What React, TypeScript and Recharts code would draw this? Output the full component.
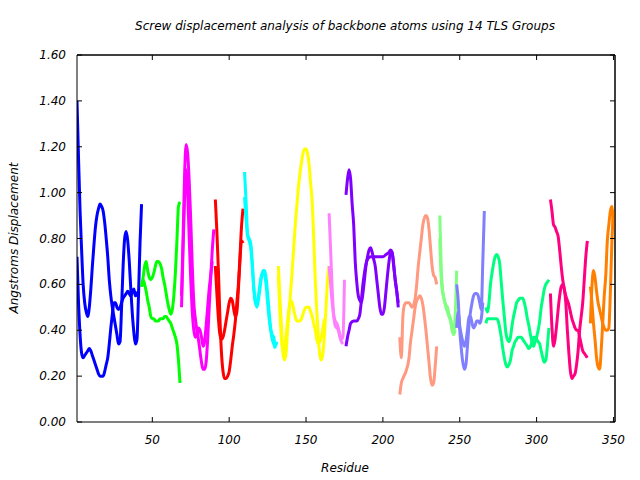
import { LineChart, Line, XAxis, YAxis, ReferenceLine } from "recharts";

const residueTicks = [50, 100, 150, 200, 250, 300, 350];
const displacementTicks = [0, 0.2, 0.4, 0.6, 0.8, 1.0, 1.2, 1.4, 1.6];
const residueRange = [1, 351];
const displacementRange = [0, 1.6];

// [residue, displacement], two traces per TLS group
const tls01a = [[1,1.40],[2,1.15],[3,0.92],[4,0.75],[5,0.60],[6,0.52],[7,0.48],[8,0.46],[9,0.50],[10,0.58],[11,0.68],[12,0.77],[13,0.85],[14,0.90],[15,0.93],[16,0.95],[17,0.94],[18,0.92],[19,0.87],[20,0.80],[21,0.72],[22,0.62],[23,0.55],[24,0.50],[25,0.46],[26,0.42],[27,0.38],[28,0.34],[29,0.35],[30,0.50],[31,0.68],[32,0.80],[33,0.83],[34,0.79],[35,0.70],[36,0.58],[37,0.47],[38,0.39],[39,0.34],[40,0.36],[41,0.55],[42,0.78],[43,0.95]];
const tls01b = [[1,0.72],[2,0.52],[3,0.38],[4,0.30],[5,0.28],[6,0.29],[7,0.30],[8,0.31],[9,0.32],[10,0.31],[11,0.29],[12,0.27],[13,0.25],[14,0.23],[15,0.21],[16,0.20],[17,0.20],[18,0.20],[19,0.22],[20,0.25],[21,0.28],[22,0.34],[23,0.41],[24,0.47],[25,0.52],[26,0.52],[27,0.50],[28,0.49],[29,0.50],[30,0.52],[31,0.54],[32,0.55],[33,0.56],[34,0.57],[35,0.56],[36,0.55],[37,0.57],[38,0.58],[39,0.55],[40,0.56],[41,0.57]];
const tls02a = [[43,0.59],[44,0.63],[45,0.68],[46,0.70],[47,0.66],[48,0.63],[49,0.62],[50,0.63],[51,0.65],[52,0.68],[53,0.70],[54,0.70],[55,0.69],[56,0.67],[57,0.63],[58,0.60],[59,0.56],[60,0.52],[61,0.49],[62,0.47],[63,0.49],[64,0.55],[65,0.65],[66,0.79],[67,0.94],[68,0.96]];
const tls02b = [[43,0.59],[44,0.62],[45,0.60],[46,0.57],[47,0.53],[48,0.50],[49,0.46],[50,0.45],[51,0.45],[52,0.44],[53,0.44],[54,0.44],[55,0.45],[56,0.45],[57,0.45],[58,0.46],[59,0.46],[60,0.45],[61,0.44],[62,0.43],[63,0.41],[64,0.39],[65,0.37],[66,0.34],[67,0.27],[68,0.17]];
const tls03a = [[69,0.55],[70,0.80],[71,1.08],[72,1.21],[73,1.17],[74,1.05],[75,0.88],[76,0.68],[77,0.52],[78,0.45],[79,0.40],[80,0.36],[81,0.31],[82,0.26],[83,0.23],[84,0.23],[85,0.26],[86,0.36],[87,0.50],[88,0.63],[89,0.75],[90,0.84]];
const tls03b = [[69,0.50],[70,0.75],[71,0.98],[72,1.10],[73,1.00],[74,0.80],[75,0.62],[76,0.48],[77,0.40],[78,0.37],[79,0.38],[80,0.41],[81,0.40],[82,0.37],[83,0.33],[84,0.35],[85,0.42],[86,0.50],[87,0.58],[88,0.64],[89,0.70]];
const tls04a = [[91,0.97],[92,0.83],[93,0.66],[94,0.45],[95,0.30],[96,0.22],[97,0.19],[98,0.19],[99,0.20],[100,0.22],[101,0.27],[102,0.33],[103,0.38],[104,0.44],[105,0.52],[106,0.60],[107,0.72],[108,0.85],[109,0.93]];
const tls04b = [[91,0.68],[92,0.56],[93,0.45],[94,0.38],[95,0.36],[96,0.37],[97,0.40],[98,0.44],[99,0.48],[100,0.52],[101,0.54],[102,0.53],[103,0.49],[104,0.46],[105,0.48],[106,0.58],[107,0.70],[108,0.79],[109,0.78]];
const tls05a = [[110,1.09],[111,0.96],[112,0.82],[113,0.80],[114,0.78],[115,0.70],[116,0.59],[117,0.53],[118,0.50],[119,0.53],[120,0.58],[121,0.63],[122,0.66],[123,0.66],[124,0.63],[125,0.56],[126,0.48],[127,0.41],[128,0.38],[129,0.37],[130,0.33],[131,0.35]];
const tls05b = [[110,0.98],[111,0.88],[112,0.81],[113,0.79],[114,0.76],[115,0.68],[116,0.58],[117,0.52],[118,0.51],[119,0.55],[120,0.60],[121,0.64],[122,0.65],[123,0.64],[124,0.60],[125,0.52],[126,0.45],[127,0.40],[128,0.36],[129,0.34],[130,0.32]];
const tls06a = [[132,0.68],[133,0.54],[134,0.42],[135,0.30],[136,0.27],[137,0.30],[138,0.40],[139,0.48],[140,0.57],[141,0.66],[142,0.76],[143,0.86],[144,0.94],[145,1.02],[146,1.08],[147,1.13],[148,1.17],[149,1.19],[150,1.19],[151,1.17],[152,1.12],[153,1.04],[154,0.96],[155,0.80],[156,0.62],[157,0.48],[158,0.37],[159,0.29],[160,0.27],[161,0.30],[162,0.38],[163,0.50],[164,0.62],[165,0.68]];
const tls06b = [[132,0.64],[133,0.48],[134,0.36],[135,0.31],[136,0.32],[137,0.38],[138,0.44],[139,0.50],[140,0.53],[141,0.52],[142,0.49],[143,0.46],[144,0.44],[145,0.44],[146,0.44],[147,0.45],[148,0.47],[149,0.49],[150,0.50],[151,0.50],[152,0.50],[153,0.48],[154,0.46],[155,0.43],[156,0.40],[157,0.36],[158,0.34],[159,0.35],[160,0.37],[161,0.41],[162,0.45]];
const tls07a = [[165,0.91],[166,0.75],[167,0.58],[168,0.47],[169,0.44],[170,0.43],[171,0.41],[172,0.38],[173,0.36],[174,0.37],[175,0.62]];
const tls07b = [[165,0.68],[166,0.60],[167,0.52],[168,0.46],[169,0.42],[170,0.41],[171,0.40],[172,0.37],[173,0.35],[174,0.34]];
const tls08a = [[176,0.99],[177,1.06],[178,1.10],[179,1.06],[180,0.95],[181,0.86],[182,0.70],[183,0.61],[184,0.55],[185,0.53],[186,0.52],[187,0.56],[188,0.62],[189,0.68],[190,0.72],[191,0.75],[192,0.76],[193,0.74],[194,0.71],[195,0.68],[196,0.62],[197,0.56],[198,0.50],[199,0.47],[200,0.47],[201,0.50],[202,0.57],[203,0.64],[204,0.70],[205,0.74],[206,0.74],[207,0.69],[208,0.62],[209,0.57],[210,0.50]];
const tls08b = [[176,0.33],[177,0.37],[178,0.40],[179,0.43],[181,0.44],[183,0.44],[184,0.45],[185,0.47],[186,0.53],[187,0.60],[188,0.65],[189,0.69],[190,0.71],[192,0.72],[194,0.72],[196,0.72],[198,0.72],[200,0.72],[202,0.73],[204,0.74],[205,0.75],[206,0.74],[207,0.68],[208,0.62],[209,0.57],[210,0.52]];
const tls09a = [[211,0.37],[212,0.28],[213,0.46],[214,0.51],[215,0.52],[217,0.52],[219,0.50],[221,0.54],[222,0.60],[223,0.68],[224,0.74],[225,0.80],[226,0.86],[227,0.89],[228,0.90],[229,0.89],[230,0.84],[231,0.76],[232,0.68],[233,0.64],[234,0.63],[235,0.60]];
const tls09b = [[211,0.12],[212,0.17],[213,0.19],[215,0.22],[217,0.28],[218,0.35],[219,0.40],[220,0.45],[221,0.50],[222,0.53],[223,0.54],[224,0.55],[225,0.54],[226,0.51],[227,0.46],[228,0.40],[229,0.33],[230,0.26],[231,0.19],[232,0.16],[233,0.17],[234,0.24],[235,0.33]];
const tls10a = [[237,0.90],[238,0.66],[239,0.57],[240,0.53],[241,0.51],[242,0.50],[243,0.47],[244,0.45],[245,0.42],[246,0.39],[247,0.46],[248,0.66]];
const tls10b = [[237,0.80],[238,0.62],[239,0.56],[240,0.53],[241,0.50],[242,0.48],[243,0.46],[244,0.44],[245,0.40],[246,0.38],[247,0.40]];
const tls11a = [[248,0.60],[249,0.53],[250,0.40],[251,0.32],[252,0.26],[253,0.23],[254,0.25],[255,0.33],[256,0.42],[257,0.48],[258,0.52],[259,0.55],[260,0.56],[261,0.56],[262,0.55],[263,0.52],[264,0.49],[265,0.70],[266,0.92]];
const tls11b = [[248,0.41],[249,0.48],[250,0.42],[251,0.38],[252,0.35],[253,0.33],[254,0.35],[255,0.40],[256,0.46],[257,0.46],[258,0.43],[259,0.41],[260,0.42],[261,0.44],[262,0.44],[263,0.43],[264,0.45],[265,0.52]];
const tls12a = [[267,0.50],[268,0.48],[269,0.52],[270,0.60],[271,0.65],[272,0.69],[273,0.72],[274,0.73],[275,0.72],[276,0.69],[277,0.61],[278,0.53],[279,0.46],[280,0.39],[281,0.36],[282,0.35],[283,0.37],[284,0.42],[285,0.46],[286,0.49],[287,0.52],[288,0.53],[289,0.54],[290,0.54],[291,0.54],[292,0.52],[293,0.49],[294,0.45],[295,0.42],[296,0.38],[297,0.35],[298,0.33],[299,0.35],[300,0.37],[301,0.40],[302,0.44],[303,0.50],[304,0.54],[305,0.58],[306,0.60],[307,0.61],[308,0.62]];
const tls12b = [[267,0.43],[268,0.45],[270,0.45],[272,0.45],[274,0.45],[275,0.44],[276,0.41],[277,0.37],[278,0.32],[279,0.28],[280,0.25],[281,0.24],[282,0.25],[283,0.27],[284,0.31],[285,0.33],[286,0.35],[287,0.36],[288,0.37],[289,0.37],[290,0.37],[291,0.36],[292,0.35],[293,0.34],[294,0.33],[295,0.32],[296,0.33],[297,0.35],[298,0.37],[299,0.37],[300,0.36],[301,0.35],[302,0.34],[303,0.31],[304,0.28],[305,0.26],[306,0.27],[307,0.33],[308,0.41]];
const tls13a = [[309,0.97],[310,0.92],[311,0.86],[312,0.85],[313,0.83],[314,0.81],[315,0.75],[316,0.68],[317,0.62],[318,0.58],[319,0.55],[320,0.53],[321,0.51],[322,0.48],[323,0.45],[324,0.43],[325,0.41],[326,0.40],[327,0.40],[328,0.37],[329,0.34],[330,0.31],[331,0.30],[332,0.29],[333,0.28]];
const tls13b = [[309,0.56],[310,0.41],[311,0.33],[312,0.36],[313,0.42],[314,0.49],[315,0.55],[316,0.59],[317,0.60],[318,0.58],[319,0.52],[320,0.40],[321,0.30],[322,0.22],[323,0.19],[324,0.20],[325,0.21],[326,0.25],[327,0.31],[328,0.40],[329,0.46],[330,0.52],[331,0.62],[332,0.72],[333,0.79]];
const tls14a = [[335,0.43],[336,0.59],[337,0.66],[338,0.63],[339,0.57],[340,0.52],[341,0.49],[342,0.46],[343,0.43],[344,0.41],[345,0.40],[346,0.40],[347,0.41],[348,0.57],[349,0.79],[350,0.92]];
const tls14b = [[335,0.59],[336,0.52],[337,0.43],[338,0.36],[339,0.28],[340,0.24],[341,0.23],[342,0.31],[343,0.43],[344,0.55],[345,0.64],[346,0.79],[347,0.86],[348,0.92],[349,0.94],[350,0.84]];

const groupColors = ["#0000ff", "#00ff00", "#ff00ff", "#ff0000", "#00ffff", "#ffff00", "#ff80ff", "#8000ff", "#ff9980", "#80ff80", "#8080ff", "#00ff80", "#ff0080", "#ff8000"];
const groupTraces = [
  [tls01a, tls01b], [tls02a, tls02b], [tls03a, tls03b], [tls04a, tls04b],
  [tls05a, tls05b], [tls06a, tls06b], [tls07a, tls07b], [tls08a, tls08b],
  [tls09a, tls09b], [tls10a, tls10b], [tls11a, tls11b], [tls12a, tls12b],
  [tls13a, tls13b], [tls14a, tls14b],
];

const FONT = "'DejaVu Sans', sans-serif";
const TICK = 5;

const BottomTick = (props: any) => {
  const { x, y, payload } = props;
  return (
    <g>
      <line x1={x} y1={y} x2={x} y2={y - TICK} stroke="#000" />
      <text x={x} y={y + 22} textAnchor="middle" fontSize={12} fontStyle="italic" fontFamily={FONT} fill="#000">
        {payload.value}
      </text>
    </g>
  );
};

const TopTick = (props: any) => {
  const { x, y } = props;
  return <line x1={x} y1={y} x2={x} y2={y + TICK} stroke="#000" />;
};

const LeftTick = (props: any) => {
  const { x, y, payload } = props;
  return (
    <g>
      <line x1={x} y1={y} x2={x + TICK} y2={y} stroke="#000" />
      <text x={x - 11} y={y + 4} textAnchor="end" fontSize={12} fontStyle="italic" fontFamily={FONT} fill="#000">
        {Number(payload.value).toFixed(2)}
      </text>
    </g>
  );
};

const RightTick = (props: any) => {
  const { x, y } = props;
  return <line x1={x} y1={y} x2={x - TICK} y2={y} stroke="#000" />;
};

const label: React.CSSProperties = {
  position: "absolute",
  fontFamily: FONT,
  fontStyle: "italic",
  fontSize: 12,
  lineHeight: "14px",
  whiteSpace: "nowrap",
  color: "#000",
};

export default function App() {
  return (
    <div style={{ position: "absolute", left: 0, top: 0, width: 640, height: 480, background: "#fff" }}>
      <LineChart width={640} height={480} margin={{ top: 54, right: 24, bottom: 28, left: 0 }}>
        <XAxis
          dataKey="r"
          type="number"
          domain={residueRange}
          ticks={residueTicks}
          interval={0}
          allowDataOverflow
          height={30}
          tickSize={0}
          tickMargin={0}
          tickLine={false}
          axisLine={{ stroke: "#000" }}
          tick={<BottomTick />}
        />
        <XAxis
          xAxisId="top"
          dataKey="r"
          orientation="top"
          type="number"
          domain={residueRange}
          ticks={residueTicks}
          interval={0}
          allowDataOverflow
          height={1}
          tickSize={0}
          tickMargin={0}
          tickLine={false}
          axisLine={{ stroke: "#000" }}
          tick={<TopTick />}
        />
        <YAxis
          type="number"
          domain={displacementRange}
          ticks={displacementTicks}
          interval={0}
          allowDataOverflow
          width={77}
          tickSize={0}
          tickMargin={0}
          tickLine={false}
          axisLine={{ stroke: "#000" }}
          tick={<LeftTick />}
        />
        <YAxis
          yAxisId="right"
          orientation="right"
          type="number"
          domain={displacementRange}
          ticks={displacementTicks}
          interval={0}
          allowDataOverflow
          width={1}
          tickSize={0}
          tickMargin={0}
          tickLine={false}
          axisLine={{ stroke: "#000" }}
          tick={<RightTick />}
        />
        {/* frame on the top and right edges */}
        <ReferenceLine y={displacementRange[1]} stroke="#000" ifOverflow="extendDomain" />
        <ReferenceLine x={residueRange[1]} stroke="#000" ifOverflow="extendDomain" />
        {/* invisible series so the mirrored axes get drawn */}
        <Line
          xAxisId="top"
          yAxisId="right"
          data={tls01a.map(([r, v]) => ({ r, v }))}
          dataKey="v"
          stroke="none"
          dot={false}
          activeDot={false}
          legendType="none"
          isAnimationActive={false}
        />
        {groupTraces.map((traces, g) =>
          traces.map((trace, t) => (
            <Line
              key={`tls-${g}-${t}`}
              data={trace.map(([r, v]) => ({ r, v }))}
              dataKey="v"
              type="monotone"
              stroke={groupColors[g]}
              strokeWidth={3}
              dot={false}
              activeDot={false}
              isAnimationActive={false}
            />
          ))
        )}
      </LineChart>
      <div style={{ ...label, left: 345, top: 19, transform: "translateX(-50%)" }}>
        Screw displacement analysis of backbone atoms using 14 TLS Groups
      </div>
      <div style={{ ...label, left: 345, top: 461, transform: "translateX(-50%)" }}>Residue</div>
      <div style={{ ...label, left: 14, top: 238, transform: "translate(-50%, -50%) rotate(-90deg)" }}>
        Angstroms Displacement
      </div>
    </div>
  );
}
